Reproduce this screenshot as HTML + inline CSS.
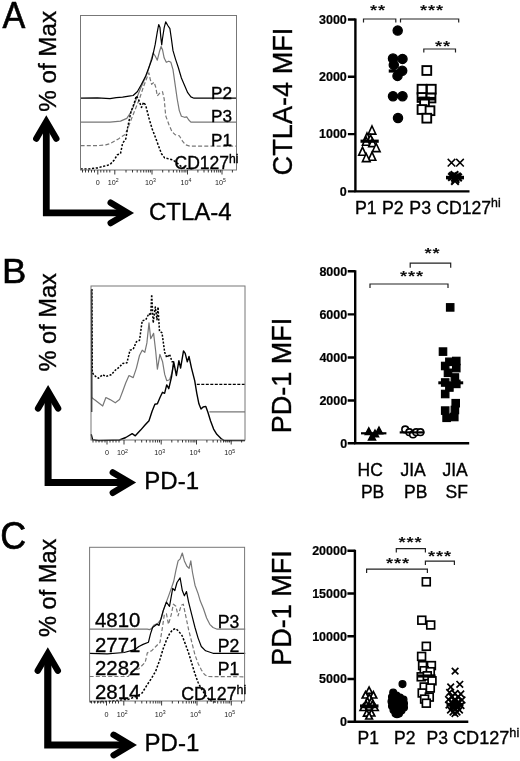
<!DOCTYPE html>
<html><head><meta charset="utf-8"><title>Figure</title>
<style>
html,body{margin:0;padding:0;background:#fff;}
body{width:520px;height:761px;overflow:hidden;}
svg{display:block;font-family:"Liberation Sans",sans-serif;}
text{stroke:#000;stroke-width:0.35px;}
.tk,.tks{stroke:none;}
.ytl{stroke-width:0.2px;}
.pan{stroke-width:0.6px;}
.star{stroke:none;}
.lab{font-size:17.5px;fill:#000;}
.axt{font-size:24px;fill:#000;}
.pan{font-size:35.5px;fill:#000;}
.ytl{font-size:12.5px;font-weight:bold;fill:#000;}
.tk{font-size:7.2px;fill:#222;}
.tks{font-size:5.2px;fill:#222;}
.star{font-size:15.5px;font-weight:bold;letter-spacing:0.75px;fill:#111;}
.ax{stroke:#000;stroke-width:2.4;fill:none;}
.br{stroke:#222;stroke-width:1.2;fill:none;}
.mean{stroke:#000;stroke-width:3.2;}
</style></head><body>
<svg width="520" height="761" viewBox="0 0 520 761">
<rect width="520" height="761" fill="#fff"/>

<!-- Panel A -->
<text class="pan" transform="translate(2.4 27.5) scale(0.964 1.04)">A</text>
<text transform="translate(56.1 111.8) rotate(-90) scale(1 1)" style="font-size:24.2px" fill="#000">% of Max</text>
<g fill="none" stroke="#000" stroke-width="6.8">
<path d="M46.3,123.2 L46.3,212.9 L126.1,212.9" stroke-linejoin="miter"/>
<path d="M36.3,138.6 L46.3,121.5 L56.3,138.6" stroke-width="6.4" stroke-linecap="round" stroke-linejoin="miter" stroke-miterlimit="10"/>
<path d="M110.69999999999999,202.70000000000002 L127.8,212.9 L110.69999999999999,223.1" stroke-width="6.4" stroke-linecap="round" stroke-linejoin="miter" stroke-miterlimit="10"/>
</g>
<text class="axt" x="149" y="220">CTLA-4</text>
<clipPath id="ca"><rect x="80.5" y="15.5" width="156.0" height="155.5"/></clipPath>
<g clip-path="url(#ca)" fill="none" stroke-linejoin="round">
<polyline points="80.6,145.7 97.4,145.7 105.8,144.8 110.0,143.6 118.4,138.9 124.7,134.7 127.9,128.4 131.0,120.0 135.2,109.5 139.4,99.0 143.6,86.4 146.8,78.0 148.9,72.8 149.9,78.0 151.6,84.3 154.1,82.2 155.8,87.5 157.3,95.9 160.0,92.7 162.5,91.7 164.2,99.0 165.7,115.8 168.8,124.2 172.0,131.6 175.1,134.7 179.3,135.8 182.5,141.1 185.6,144.8 189.8,146.1 236.5,146.1" stroke="#777" stroke-width="1.2" stroke-dasharray="4 2.2"/>
<polyline points="80.6,122.1 110.0,122.1 120.5,121.1 126.8,118.4 130.0,113.7 133.1,107.4 136.3,99.0 140.5,88.5 144.7,79.1 147.8,71.7 151.0,60.2 153.1,52.8 155.2,56.0 157.3,60.2 159.4,51.8 161.1,46.5 162.5,49.7 164.2,58.1 166.3,62.3 168.8,61.2 170.9,62.3 173.0,69.6 175.1,84.3 177.2,99.0 179.3,110.6 181.4,116.3 184.6,117.3 186.7,116.9 188.8,120.0 190.9,122.1 236.5,122.1" stroke="#777" stroke-width="1.2"/>
<polyline points="80.6,169.0 89.0,169.0 97.4,167.9 103.7,166.3 110.0,164.6 114.2,160.0 117.4,154.7 120.5,153.7 122.6,143.2 125.8,138.9 127.9,126.3 131.0,111.6 134.2,103.2 136.3,95.9 138.4,99.0 141.5,107.4 143.6,102.2 145.7,105.3 148.9,117.9 152.0,128.4 155.2,136.8 158.3,145.3 161.5,153.7 164.6,157.9 168.8,158.9 173.0,160.0 177.2,163.1 181.4,166.7 185.6,168.4 194.0,169.2" stroke="#000" stroke-width="1.5" stroke-dasharray="2.2 1.6"/>
<polyline points="80.6,98.2 97.4,97.8 110.0,98.6 116.3,97.6 122.6,97.1 128.9,96.1 133.1,95.5 137.3,91.7 141.5,84.3 145.7,75.9 148.9,67.5 152.0,59.1 155.2,44.4 157.3,31.8 158.7,24.5 160.0,27.6 160.8,37.1 161.7,44.8 162.5,38.5 164.2,27.6 165.7,21.9 167.8,25.5 169.9,28.7 171.3,38.1 173.0,50.7 175.5,59.1 178.3,67.5 181.4,78.0 184.6,85.4 187.7,92.7 190.9,96.9 194.0,98.2 236.5,98.2" stroke="#000" stroke-width="1.2"/>
</g>
<rect x="80.5" y="15.5" width="156.0" height="154.5" fill="none" stroke="#777" stroke-width="1"/>
<path d="M97.8,170 v4.5 M114.8,170 v4.5 M152,170 v4.5 M187.5,170 v4.5 M222,170 v4.5 M126.0,170 v2.5 M132.5,170 v2.5 M137.2,170 v2.5 M140.8,170 v2.5 M143.7,170 v2.5 M146.2,170 v2.5 M148.4,170 v2.5 M150.3,170 v2.5 M162.7,170 v2.5 M168.9,170 v2.5 M173.4,170 v2.5 M176.8,170 v2.5 M179.6,170 v2.5 M182.0,170 v2.5 M184.1,170 v2.5 M185.9,170 v2.5 M197.9,170 v2.5 M204.0,170 v2.5 M208.3,170 v2.5 M211.6,170 v2.5 M214.3,170 v2.5 M216.7,170 v2.5 M218.7,170 v2.5 M220.4,170 v2.5 M232.4,170 v2.5 M82.5,170 v2.5 M85.5,170 v2.5 M88.5,170 v2.5 M91.5,170 v2.5 M94.5,170 v2.5 M100.8,170 v2.5 M103.8,170 v2.5 M106.8,170 v2.5 M109.8,170 v2.5" stroke="#222" stroke-width="0.9" fill="none"/>
<text class="tk" x="97.8" y="184.8" text-anchor="middle">0</text>
<text class="tk" x="113.3" y="184.8" text-anchor="middle">10<tspan class="tks" dy="-2.5">2</tspan></text>
<text class="tk" x="150.5" y="184.8" text-anchor="middle">10<tspan class="tks" dy="-2.5">3</tspan></text>
<text class="tk" x="186.0" y="184.8" text-anchor="middle">10<tspan class="tks" dy="-2.5">4</tspan></text>
<text class="tk" x="220.5" y="184.8" text-anchor="middle">10<tspan class="tks" dy="-2.5">5</tspan></text>
<text class="lab" x="211" y="98.5" style="font-size:17.2px">P2</text>
<text class="lab" x="211" y="122.2" style="font-size:17.2px">P3</text>
<text class="lab" x="211" y="145.6" style="font-size:17.2px">P1</text>
<text class="lab" x="174.5" y="168.8" text-anchor="start" style="font-size:17.5px">CD127<tspan dy="-6.3" style="font-size:12.2px">hi</tspan></text>
<text transform="translate(292 175.4) rotate(-90) scale(0.96 1)" style="font-size:28.3px" fill="#000">CTLA-4 MFI</text>
<path class="ax" d="M355.4,18.5 V191.4 M354.4,191.4 H469.5"/>
<path class="ax" d="M347.9,19.5 H355.4 M347.9,76.8 H355.4 M347.9,134.1 H355.4 M347.9,191.4 H355.4"/>
<text class="ytl" x="346.79999999999995" y="23.8" text-anchor="end">3000</text>
<text class="ytl" x="346.79999999999995" y="81.1" text-anchor="end">2000</text>
<text class="ytl" x="346.79999999999995" y="138.4" text-anchor="end">1000</text>
<text class="ytl" x="346.79999999999995" y="195.70000000000002" text-anchor="end">0</text>
<path class="br" d="M363.5,22.5 V19 H395.8 V22.5"/>
<text class="star" transform="translate(378.0 15.2) scale(1.18 1)" text-anchor="middle">**</text>
<path class="br" d="M400.5,22.5 V19 H458.7 V22.5"/>
<text class="star" transform="translate(431.9 15.2) scale(1.18 1)" text-anchor="middle">***</text>
<path class="br" d="M423.8,52.5 V49 H455.5 V52.5"/>
<text class="star" transform="translate(443.0 50.6) scale(1.18 1)" text-anchor="middle">**</text>
<path d="M372.0,126.0 L375.8,134.1 L368.2,134.1 Z" fill="#fff" stroke="#000" stroke-width="1.6" stroke-linejoin="miter"/>
<path d="M367.0,133.0 L370.8,141.1 L363.2,141.1 Z" fill="#fff" stroke="#000" stroke-width="1.6" stroke-linejoin="miter"/>
<path d="M370.5,134.8 L374.3,142.8 L366.7,142.8 Z" fill="#fff" stroke="#000" stroke-width="1.6" stroke-linejoin="miter"/>
<path d="M366.2,137.2 L370.1,145.3 L362.4,145.3 Z" fill="#fff" stroke="#000" stroke-width="1.6" stroke-linejoin="miter"/>
<path d="M372.5,138.5 L376.3,146.6 L368.7,146.6 Z" fill="#fff" stroke="#000" stroke-width="1.6" stroke-linejoin="miter"/>
<path d="M376.2,143.5 L380.1,151.6 L372.4,151.6 Z" fill="#fff" stroke="#000" stroke-width="1.6" stroke-linejoin="miter"/>
<path d="M362.5,147.2 L366.3,155.3 L358.7,155.3 Z" fill="#fff" stroke="#000" stroke-width="1.6" stroke-linejoin="miter"/>
<path d="M372.0,152.2 L375.8,160.3 L368.2,160.3 Z" fill="#fff" stroke="#000" stroke-width="1.6" stroke-linejoin="miter"/>
<path d="M366.2,153.5 L370.1,161.6 L362.4,161.6 Z" fill="#fff" stroke="#000" stroke-width="1.6" stroke-linejoin="miter"/>
<circle cx="397.7" cy="30.6" r="4.6" fill="#000" stroke="#000" stroke-width="1.3"/>
<circle cx="393.0" cy="58.5" r="4.6" fill="#000" stroke="#000" stroke-width="1.3"/>
<circle cx="402.5" cy="58.9" r="4.6" fill="#000" stroke="#000" stroke-width="1.3"/>
<circle cx="393.8" cy="64.9" r="4.6" fill="#000" stroke="#000" stroke-width="1.3"/>
<circle cx="402.2" cy="70.8" r="4.6" fill="#000" stroke="#000" stroke-width="1.3"/>
<circle cx="397.5" cy="75.9" r="4.6" fill="#000" stroke="#000" stroke-width="1.3"/>
<circle cx="393.0" cy="96.2" r="4.6" fill="#000" stroke="#000" stroke-width="1.3"/>
<circle cx="402.5" cy="96.2" r="4.6" fill="#000" stroke="#000" stroke-width="1.3"/>
<circle cx="398.0" cy="118.0" r="4.6" fill="#000" stroke="#000" stroke-width="1.3"/>
<rect x="422.4" y="66.1" width="8.8" height="8.8" fill="#fff" stroke="#000" stroke-width="1.9"/>
<rect x="417.6" y="84.8" width="8.8" height="8.8" fill="#fff" stroke="#000" stroke-width="1.9"/>
<rect x="426.9" y="84.8" width="8.8" height="8.8" fill="#fff" stroke="#000" stroke-width="1.9"/>
<rect x="417.6" y="93.1" width="8.8" height="8.8" fill="#fff" stroke="#000" stroke-width="1.9"/>
<rect x="426.6" y="93.6" width="8.8" height="8.8" fill="#fff" stroke="#000" stroke-width="1.9"/>
<rect x="420.1" y="97.6" width="8.8" height="8.8" fill="#fff" stroke="#000" stroke-width="1.9"/>
<rect x="417.6" y="105.1" width="8.8" height="8.8" fill="#fff" stroke="#000" stroke-width="1.9"/>
<rect x="425.6" y="106.3" width="8.8" height="8.8" fill="#fff" stroke="#000" stroke-width="1.9"/>
<rect x="422.4" y="113.8" width="8.8" height="8.8" fill="#fff" stroke="#000" stroke-width="1.9"/>
<path d="M447.7,158.9 L455.3,166.5 M455.3,158.9 L447.7,166.5" stroke="#000" stroke-width="1.5" fill="none"/>
<path d="M456.2,158.9 L463.8,166.5 M463.8,158.9 L456.2,166.5" stroke="#000" stroke-width="1.5" fill="none"/>
<path d="M449.2,172.2 L456.8,179.8 M456.8,172.2 L449.2,179.8" stroke="#000" stroke-width="2.0" fill="none"/>
<path d="M453.2,172.7 L460.8,180.3 M460.8,172.7 L453.2,180.3" stroke="#000" stroke-width="2.0" fill="none"/>
<path d="M451.2,173.7 L458.8,181.3 M458.8,173.7 L451.2,181.3" stroke="#000" stroke-width="2.0" fill="none"/>
<path d="M448.2,173.2 L455.8,180.8 M455.8,173.2 L448.2,180.8" stroke="#000" stroke-width="2.0" fill="none"/>
<path d="M454.2,173.7 L461.8,181.3 M461.8,173.7 L454.2,181.3" stroke="#000" stroke-width="2.0" fill="none"/>
<path d="M451.2,177.2 L458.8,184.8 M458.8,177.2 L451.2,184.8" stroke="#000" stroke-width="2.0" fill="none"/>
<path d="M450.7,171.2 L458.3,178.8 M458.3,171.2 L450.7,178.8" stroke="#000" stroke-width="2.0" fill="none"/>
<path d="M451.7,175.2 L459.3,182.8 M459.3,175.2 L451.7,182.8" stroke="#000" stroke-width="2.0" fill="none"/>
<line class="mean" x1="360.5" x2="378.75" y1="141.2" y2="141.2" style="stroke-width:3.2"/>
<line class="mean" x1="388.75" x2="407" y1="71" y2="71" style="stroke-width:3.2"/>
<line class="mean" x1="417.5" x2="435.5" y1="98.7" y2="98.7" style="stroke-width:3.6"/>
<line class="mean" x1="446" x2="464" y1="177.6" y2="177.6" style="stroke-width:3.6"/>
<text class="lab" x="354.9" y="213.5" style="font-size:17.8px">P1</text>
<text class="lab" x="382" y="213.5" style="font-size:17.8px">P2</text>
<text class="lab" x="409.3" y="213.5" style="font-size:17.8px">P3</text>
<text class="lab" x="436.3" y="213.5" text-anchor="start" style="font-size:17.6px">CD127<tspan dy="-6.3" style="font-size:12.3px">hi</tspan></text>
<!-- Panel B -->
<text class="pan" transform="translate(2.1 283) scale(1.027 1.012)">B</text>
<text transform="translate(55.6 371.5) rotate(-90) scale(1 1)" style="font-size:23.6px" fill="#000">% of Max</text>
<g fill="none" stroke="#000" stroke-width="7.0">
<path d="M48.1,393 L48.1,482.6 L128.2,482.6" stroke-linejoin="miter"/>
<path d="M38.1,408.4 L48.1,391.3 L58.1,408.4" stroke-width="6.4" stroke-linecap="round" stroke-linejoin="miter" stroke-miterlimit="10"/>
<path d="M112.79999999999998,472.40000000000003 L129.89999999999998,482.6 L112.79999999999998,492.8" stroke-width="6.4" stroke-linecap="round" stroke-linejoin="miter" stroke-miterlimit="10"/>
</g>
<text class="axt" x="144.3" y="489">PD-1</text>
<g fill="none" stroke-linejoin="round">
<polyline points="91.2,290.0 91.8,397.5 94.3,399.6 98.5,402.8 102.7,406.0 105.9,397.5 110.1,399.6 115.3,402.8 119.5,399.6 122.7,391.2 125.8,382.8 129.0,375.5 133.2,377.6 136.4,368.1 139.5,355.5 142.2,350.2 144.8,352.3 146.9,342.9 149.0,322.9 150.7,338.7 153.6,333.4 155.7,351.3 157.4,369.2 159.9,354.4 162.6,361.8 164.7,374.4 166.8,380.7 169.6,379.7 172.1,372.3 173.7,362.8" stroke="#777" stroke-width="1.2"/>
<path d="M209.4,411.8 H245" stroke="#777" stroke-width="1.2"/>
<polyline points="91.8,289.0 92.2,372.3 94.3,375.5 98.5,378.2 102.7,374.8 105.9,376.5 111.1,374.8 115.3,370.2 119.5,367.0 122.7,363.5 126.9,362.8 130.0,350.2 133.2,349.2 136.4,341.8 139.5,340.3 142.2,320.8 145.8,319.7 149.0,313.4 150.7,315.5 151.7,294.5 153.2,322.9 155.3,307.1 157.0,319.7 158.0,307.1 159.5,331.3 162.0,332.8 164.7,352.3 166.8,357.6 169.6,354.4 172.1,361.8 173.7,361.8" stroke="#000" stroke-width="1.5" stroke-dasharray="2 1.5"/>
<path d="M196.8,384.3 H245" stroke="#000" stroke-width="1.3" stroke-dasharray="3 1.5"/>
<polyline points="91.2,434.3 92.6,439.6 98.5,440.6 119.5,440.0 125.8,437.5 132.2,433.7 135.3,435.8 140.6,430.1 144.8,425.3 149.0,420.7 152.1,411.2 154.9,404.3 157.4,403.8 160.0,397.5 162.5,392.3 164.6,393.3 166.7,384.9 168.8,388.7 171.6,376.5 173.7,361.8 176.4,375.5 178.9,360.7 180.6,368.1 183.5,350.9 185.2,353.4 187.3,361.8 189.0,356.5 191.5,368.1 194.7,380.7 196.8,393.3 198.9,403.8 201.0,409.1 203.1,407.0 205.8,406.4 207.9,412.3 210.5,420.7 213.6,429.1 216.8,434.3 221.0,438.5 224.1,440.6 245.0,440.6" stroke="#000" stroke-width="1.4"/>
<path d="M91.7,289 V412" stroke="#000" stroke-width="1.2"/>
</g>
<rect x="91" y="286" width="154" height="154" fill="none" stroke="#777" stroke-width="1"/>
<path d="M107,440 v4.5 M124,440 v4.5 M161.2,440 v4.5 M196.5,440 v4.5 M231.2,440 v4.5 M135.2,440 v2.5 M141.7,440 v2.5 M146.4,440 v2.5 M150.0,440 v2.5 M152.9,440 v2.5 M155.4,440 v2.5 M157.6,440 v2.5 M159.5,440 v2.5 M171.8,440 v2.5 M178.0,440 v2.5 M182.5,440 v2.5 M185.9,440 v2.5 M188.7,440 v2.5 M191.0,440 v2.5 M193.1,440 v2.5 M194.9,440 v2.5 M206.9,440 v2.5 M213.1,440 v2.5 M217.4,440 v2.5 M220.8,440 v2.5 M223.5,440 v2.5 M225.8,440 v2.5 M227.8,440 v2.5 M229.6,440 v2.5 M241.6,440 v2.5 M93.0,440 v2.5 M96.0,440 v2.5 M99.0,440 v2.5 M102.0,440 v2.5 M105.0,440 v2.5 M110.0,440 v2.5 M113.0,440 v2.5 M116.0,440 v2.5 M119.0,440 v2.5" stroke="#222" stroke-width="0.9" fill="none"/>
<text class="tk" x="107" y="455" text-anchor="middle">0</text>
<text class="tk" x="122.5" y="455" text-anchor="middle">10<tspan class="tks" dy="-2.5">2</tspan></text>
<text class="tk" x="159.7" y="455" text-anchor="middle">10<tspan class="tks" dy="-2.5">3</tspan></text>
<text class="tk" x="195.0" y="455" text-anchor="middle">10<tspan class="tks" dy="-2.5">4</tspan></text>
<text class="tk" x="229.7" y="455" text-anchor="middle">10<tspan class="tks" dy="-2.5">5</tspan></text>
<text transform="translate(291.2 433.3) rotate(-90) scale(0.965 1)" style="font-size:28px" fill="#000">PD-1 MFI</text>
<path class="ax" d="M355.2,270.2 V443.2 M354.2,443.2 H469.2"/>
<path class="ax" d="M347.7,271.2 H355.2 M347.7,314.4 H355.2 M347.7,357.5 H355.2 M347.7,400.5 H355.2 M347.7,443.2 H355.2"/>
<text class="ytl" x="347.2" y="275.5" text-anchor="end">8000</text>
<text class="ytl" x="347.2" y="318.7" text-anchor="end">6000</text>
<text class="ytl" x="347.2" y="361.8" text-anchor="end">4000</text>
<text class="ytl" x="347.2" y="404.8" text-anchor="end">2000</text>
<text class="ytl" x="347.2" y="447.5" text-anchor="end">0</text>
<path class="br" d="M370,288 V284 H448 V288"/>
<text class="star" transform="translate(411.9 281.2) scale(1.18 1)" text-anchor="middle">***</text>
<path class="br" d="M410.2,267.7 V263.2 H450.7 V267.7"/>
<text class="star" transform="translate(432.4 258.3) scale(1.18 1)" text-anchor="middle">**</text>
<path d="M368.8,427.8 L372.4,434.6 L365.2,434.6 Z" fill="#000" stroke="#000" stroke-width="1.4" stroke-linejoin="miter"/>
<path d="M379.0,427.0 L382.6,433.8 L375.4,433.8 Z" fill="#000" stroke="#000" stroke-width="1.4" stroke-linejoin="miter"/>
<path d="M372.0,433.3 L375.6,440.1 L368.4,440.1 Z" fill="#000" stroke="#000" stroke-width="1.4" stroke-linejoin="miter"/>
<path d="M375.0,430.0 L378.6,436.8 L371.4,436.8 Z" fill="#000" stroke="#000" stroke-width="1.4" stroke-linejoin="miter"/>
<circle cx="405.2" cy="429.4" r="3.3" fill="#fff" stroke="#000" stroke-width="1.6"/>
<circle cx="409.3" cy="432.2" r="3.3" fill="#fff" stroke="#000" stroke-width="1.6"/>
<circle cx="413.0" cy="434.4" r="3.3" fill="#fff" stroke="#000" stroke-width="1.6"/>
<circle cx="416.2" cy="432.2" r="3.3" fill="#fff" stroke="#000" stroke-width="1.6"/>
<circle cx="420.4" cy="432.2" r="3.3" fill="#fff" stroke="#000" stroke-width="1.6"/>
<rect x="446.5" y="303.7" width="7.4" height="7.4" fill="#000" stroke="#000" stroke-width="1.2"/>
<rect x="439.3" y="347.9" width="7.4" height="7.4" fill="#000" stroke="#000" stroke-width="1.2"/>
<rect x="452.6" y="357.3" width="7.4" height="7.4" fill="#000" stroke="#000" stroke-width="1.2"/>
<rect x="445.7" y="358.1" width="7.4" height="7.4" fill="#000" stroke="#000" stroke-width="1.2"/>
<rect x="441.5" y="362.3" width="7.4" height="7.4" fill="#000" stroke="#000" stroke-width="1.2"/>
<rect x="452.6" y="364.4" width="7.4" height="7.4" fill="#000" stroke="#000" stroke-width="1.2"/>
<rect x="444.3" y="369.1" width="7.4" height="7.4" fill="#000" stroke="#000" stroke-width="1.2"/>
<rect x="451.2" y="373.8" width="7.4" height="7.4" fill="#000" stroke="#000" stroke-width="1.2"/>
<rect x="441.5" y="378.8" width="7.4" height="7.4" fill="#000" stroke="#000" stroke-width="1.2"/>
<rect x="452.6" y="380.2" width="7.4" height="7.4" fill="#000" stroke="#000" stroke-width="1.2"/>
<rect x="445.7" y="383.8" width="7.4" height="7.4" fill="#000" stroke="#000" stroke-width="1.2"/>
<rect x="441.5" y="390.3" width="7.4" height="7.4" fill="#000" stroke="#000" stroke-width="1.2"/>
<rect x="452.0" y="399.5" width="7.4" height="7.4" fill="#000" stroke="#000" stroke-width="1.2"/>
<rect x="441.5" y="406.9" width="7.4" height="7.4" fill="#000" stroke="#000" stroke-width="1.2"/>
<rect x="451.2" y="406.3" width="7.4" height="7.4" fill="#000" stroke="#000" stroke-width="1.2"/>
<rect x="442.9" y="414.1" width="7.4" height="7.4" fill="#000" stroke="#000" stroke-width="1.2"/>
<rect x="450.6" y="413.3" width="7.4" height="7.4" fill="#000" stroke="#000" stroke-width="1.2"/>
<line class="mean" x1="361" x2="386.4" y1="433.3" y2="433.3" style="stroke-width:2.2"/>
<line class="mean" x1="399.7" x2="424.5" y1="432.4" y2="432.4" style="stroke-width:2.2"/>
<line class="mean" x1="438.3" x2="463.2" y1="382.8" y2="382.8" style="stroke-width:3"/>
<text class="lab" x="357.5" y="476.2">HC</text>
<text class="lab" x="360.9" y="497.7">PB</text>
<text class="lab" x="400.5" y="476.2">JIA</text>
<text class="lab" x="404" y="497.7">PB</text>
<text class="lab" x="442.5" y="476.2">JIA</text>
<text class="lab" x="445.5" y="497.7">SF</text>
<!-- Panel C -->
<text class="pan" transform="translate(0.2 548.8) scale(1.01 1.075)">C</text>
<text transform="translate(56.1 637) rotate(-90) scale(1 1)" style="font-size:23.6px" fill="#000">% of Max</text>
<g fill="none" stroke="#000" stroke-width="7.2">
<path d="M47.8,655.3 L47.8,745 L129,745" stroke-linejoin="miter"/>
<path d="M37.8,670.6999999999999 L47.8,653.5999999999999 L57.8,670.6999999999999" stroke-width="6.4" stroke-linecap="round" stroke-linejoin="miter" stroke-miterlimit="10"/>
<path d="M113.6,734.8 L130.7,745 L113.6,755.2" stroke-width="6.4" stroke-linecap="round" stroke-linejoin="miter" stroke-miterlimit="10"/>
</g>
<text class="axt" x="144.6" y="751.2">PD-1</text>
<g fill="none" stroke-linejoin="round">
<polyline points="89.6,676.5 128.3,676.5 131.5,671.9 138.9,668.7 145.2,662.4 147.3,652.9 151.6,650.8 155.8,646.5 160.0,642.3 162.1,629.6 164.3,614.8 166.4,613.7 168.5,624.3 171.2,614.8 173.4,604.2 175.9,606.3 178.1,615.8 181.2,605.3 183.3,604.2 185.5,614.8 188.6,629.6 191.8,642.3 195.0,655.0 198.1,663.4 201.3,669.8 204.5,674.5 207.7,676.5 245.2,676.8" stroke="#777" stroke-width="1.2" stroke-dasharray="4 2.2"/>
<polyline points="89.6,629.2 147.3,629.2 149.5,629.6 151.6,628.6 153.7,625.4 157.9,623.3 161.1,619.0 163.3,610.6 165.7,603.7 168.7,595.6 171.7,587.3 173.8,581.0 175.9,570.4 178.1,560.9 180.2,558.8 182.3,553.0 184.4,560.9 186.9,566.2 189.1,568.3 190.8,560.9 192.5,572.5 195.0,585.2 198.1,593.6 200.3,601.1 203.4,608.5 206.6,618.0 209.8,624.3 213.0,627.5 217.2,629.2 245.2,629.2" stroke="#777" stroke-width="1.2"/>
<polyline points="89.6,701.8 107.2,701.5 128.3,699.4 136.8,696.2 142.0,693.1 147.3,684.6 151.6,678.2 155.8,670.9 160.0,659.2 163.2,648.6 166.4,640.2 169.5,633.9 172.7,629.6 175.9,628.6 179.1,631.7 182.2,635.9 185.5,644.4 188.6,652.9 191.8,663.4 195.0,674.0 198.1,682.5 201.3,688.8 205.6,695.2 209.8,700.5 215.8,702.1" stroke="#000" stroke-width="1.5" stroke-dasharray="2.2 1.6"/>
<polyline points="89.6,653.3 107.2,653.9 124.1,652.5 134.7,649.7 138.9,646.5 143.1,644.4 148.4,642.3 150.5,633.9 152.6,627.5 156.9,624.3 159.0,625.4 160.8,619.4 163.2,610.6 166.4,602.1 169.5,606.3 172.7,588.3 174.8,590.5 177.0,582.5 180.1,577.8 182.3,590.5 184.4,595.8 186.5,591.6 188.6,602.1 191.8,614.8 195.0,627.5 198.1,638.1 201.3,646.5 205.6,650.8 213.0,653.3 245.2,653.3" stroke="#000" stroke-width="1.2"/>
</g>
<rect x="89.6" y="547.3" width="155.0" height="153.70000000000005" fill="none" stroke="#777" stroke-width="1"/>
<path d="M106.5,701 v4.5 M123.8,701 v4.5 M161.6,701 v4.5 M197,701 v4.5 M231.3,701 v4.5 M135.2,701 v2.5 M141.8,701 v2.5 M146.6,701 v2.5 M150.2,701 v2.5 M153.2,701 v2.5 M155.7,701 v2.5 M157.9,701 v2.5 M159.9,701 v2.5 M172.3,701 v2.5 M178.5,701 v2.5 M182.9,701 v2.5 M186.3,701 v2.5 M189.1,701 v2.5 M191.5,701 v2.5 M193.6,701 v2.5 M195.4,701 v2.5 M207.3,701 v2.5 M213.4,701 v2.5 M217.7,701 v2.5 M221.0,701 v2.5 M223.7,701 v2.5 M226.0,701 v2.5 M228.0,701 v2.5 M229.7,701 v2.5 M241.6,701 v2.5 M91.6,701 v2.5 M94.6,701 v2.5 M97.6,701 v2.5 M100.6,701 v2.5 M103.6,701 v2.5 M109.5,701 v2.5 M112.5,701 v2.5 M115.5,701 v2.5 M118.5,701 v2.5" stroke="#222" stroke-width="0.9" fill="none"/>
<text class="tk" x="106.5" y="716.6" text-anchor="middle">0</text>
<text class="tk" x="122.3" y="716.6" text-anchor="middle">10<tspan class="tks" dy="-2.5">2</tspan></text>
<text class="tk" x="160.1" y="716.6" text-anchor="middle">10<tspan class="tks" dy="-2.5">3</tspan></text>
<text class="tk" x="195.5" y="716.6" text-anchor="middle">10<tspan class="tks" dy="-2.5">4</tspan></text>
<text class="tk" x="229.8" y="716.6" text-anchor="middle">10<tspan class="tks" dy="-2.5">5</tspan></text>
<text x="95" y="627.3" style="font-size:20.4px">4810</text>
<text x="95" y="651.7" style="font-size:20.4px">2771</text>
<text x="95" y="675.3" style="font-size:20.4px">2282</text>
<text x="95" y="699.4" style="font-size:20.4px">2814</text>
<text x="217.8" y="628" style="font-size:17.6px">P3</text>
<text x="217.8" y="652" style="font-size:17.6px">P2</text>
<text x="217.8" y="675.4" style="font-size:17.6px">P1</text>
<text class="lab" x="181.2" y="700.2" text-anchor="start" style="font-size:17.8px">CD127<tspan dy="-6.4" style="font-size:12.5px">hi</tspan></text>
<text transform="translate(291.4 665.8) rotate(-90) scale(0.965 1)" style="font-size:28px" fill="#000">PD-1 MFI</text>
<path class="ax" d="M354.9,549.8 V721.7 M353.9,721.7 H468.3"/>
<path class="ax" d="M347.4,550.8 H354.9 M347.4,593.5 H354.9 M347.4,636.2 H354.9 M347.4,679.0 H354.9 M347.4,721.7 H354.9"/>
<text class="ytl" x="346.9" y="555.0999999999999" text-anchor="end">20000</text>
<text class="ytl" x="346.9" y="597.8" text-anchor="end">15000</text>
<text class="ytl" x="346.9" y="640.5" text-anchor="end">10000</text>
<text class="ytl" x="346.9" y="683.3" text-anchor="end">5000</text>
<text class="ytl" x="346.9" y="726.0" text-anchor="end">0</text>
<path class="br" d="M396.3,552.6 V548.6 H425.4 V552.6"/>
<text class="star" transform="translate(410.4 547.3) scale(1.18 1)" text-anchor="middle">***</text>
<path class="br" d="M366.6,573.1 V569.1 H427.4 V573.1"/>
<text class="star" transform="translate(397.9 568.1) scale(1.18 1)" text-anchor="middle">***</text>
<path class="br" d="M425.4,565.1 V561.1 H454.4 V565.1"/>
<text class="star" transform="translate(440.0 560.5) scale(1.18 1)" text-anchor="middle">***</text>
<path d="M369.1,687.1 L372.4,693.4 L365.8,693.4 Z" fill="#fff" stroke="#000" stroke-width="1.7" stroke-linejoin="miter"/>
<path d="M365.5,691.7 L368.8,698.0 L362.2,698.0 Z" fill="#fff" stroke="#000" stroke-width="1.7" stroke-linejoin="miter"/>
<path d="M373.4,691.7 L376.7,698.0 L370.1,698.0 Z" fill="#fff" stroke="#000" stroke-width="1.7" stroke-linejoin="miter"/>
<path d="M369.3,694.2 L372.6,700.5 L366.0,700.5 Z" fill="#fff" stroke="#000" stroke-width="1.7" stroke-linejoin="miter"/>
<path d="M367.5,697.9 L370.8,704.2 L364.2,704.2 Z" fill="#fff" stroke="#000" stroke-width="1.7" stroke-linejoin="miter"/>
<path d="M371.5,697.7 L374.8,704.0 L368.2,704.0 Z" fill="#fff" stroke="#000" stroke-width="1.7" stroke-linejoin="miter"/>
<path d="M363.4,704.2 L366.7,710.5 L360.1,710.5 Z" fill="#fff" stroke="#000" stroke-width="1.7" stroke-linejoin="miter"/>
<path d="M374.9,704.2 L378.2,710.5 L371.6,710.5 Z" fill="#fff" stroke="#000" stroke-width="1.7" stroke-linejoin="miter"/>
<path d="M369.0,703.9 L372.3,710.2 L365.7,710.2 Z" fill="#fff" stroke="#000" stroke-width="1.7" stroke-linejoin="miter"/>
<path d="M366.2,701.2 L369.5,707.5 L362.9,707.5 Z" fill="#fff" stroke="#000" stroke-width="1.7" stroke-linejoin="miter"/>
<path d="M372.3,701.2 L375.6,707.5 L369.0,707.5 Z" fill="#fff" stroke="#000" stroke-width="1.7" stroke-linejoin="miter"/>
<path d="M366.8,709.9 L370.1,716.2 L363.5,716.2 Z" fill="#fff" stroke="#000" stroke-width="1.7" stroke-linejoin="miter"/>
<path d="M371.5,709.7 L374.8,716.0 L368.2,716.0 Z" fill="#fff" stroke="#000" stroke-width="1.7" stroke-linejoin="miter"/>
<path d="M369.1,712.7 L372.4,719.0 L365.8,719.0 Z" fill="#fff" stroke="#000" stroke-width="1.7" stroke-linejoin="miter"/>
<circle cx="402.5" cy="684.1" r="3.4" fill="#000" stroke="#000" stroke-width="1.3"/>
<circle cx="393.2" cy="692.6" r="3.4" fill="#000" stroke="#000" stroke-width="1.3"/>
<circle cx="396.5" cy="695.5" r="3.4" fill="#000" stroke="#000" stroke-width="1.3"/>
<circle cx="392.0" cy="697.0" r="3.4" fill="#000" stroke="#000" stroke-width="1.3"/>
<circle cx="400.0" cy="697.5" r="3.4" fill="#000" stroke="#000" stroke-width="1.3"/>
<circle cx="403.5" cy="699.5" r="3.4" fill="#000" stroke="#000" stroke-width="1.3"/>
<circle cx="391.5" cy="701.5" r="3.4" fill="#000" stroke="#000" stroke-width="1.3"/>
<circle cx="395.5" cy="700.5" r="3.4" fill="#000" stroke="#000" stroke-width="1.3"/>
<circle cx="399.5" cy="702.0" r="3.4" fill="#000" stroke="#000" stroke-width="1.3"/>
<circle cx="404.0" cy="703.5" r="3.4" fill="#000" stroke="#000" stroke-width="1.3"/>
<circle cx="392.0" cy="706.0" r="3.4" fill="#000" stroke="#000" stroke-width="1.3"/>
<circle cx="396.0" cy="705.5" r="3.4" fill="#000" stroke="#000" stroke-width="1.3"/>
<circle cx="400.5" cy="706.5" r="3.4" fill="#000" stroke="#000" stroke-width="1.3"/>
<circle cx="404.0" cy="707.5" r="3.4" fill="#000" stroke="#000" stroke-width="1.3"/>
<circle cx="393.5" cy="710.0" r="3.4" fill="#000" stroke="#000" stroke-width="1.3"/>
<circle cx="397.5" cy="710.0" r="3.4" fill="#000" stroke="#000" stroke-width="1.3"/>
<circle cx="401.5" cy="710.5" r="3.4" fill="#000" stroke="#000" stroke-width="1.3"/>
<circle cx="395.5" cy="713.5" r="3.4" fill="#000" stroke="#000" stroke-width="1.3"/>
<circle cx="399.0" cy="713.5" r="3.4" fill="#000" stroke="#000" stroke-width="1.3"/>
<circle cx="397.0" cy="714.2" r="3.4" fill="#000" stroke="#000" stroke-width="1.3"/>
<rect x="422.4" y="577.9" width="7.8" height="7.8" fill="#fff" stroke="#000" stroke-width="1.7"/>
<rect x="417.9" y="616.3" width="7.8" height="7.8" fill="#fff" stroke="#000" stroke-width="1.7"/>
<rect x="426.8" y="621.1" width="7.8" height="7.8" fill="#fff" stroke="#000" stroke-width="1.7"/>
<rect x="422.4" y="642.4" width="7.8" height="7.8" fill="#fff" stroke="#000" stroke-width="1.7"/>
<rect x="417.7" y="652.5" width="7.8" height="7.8" fill="#fff" stroke="#000" stroke-width="1.7"/>
<rect x="418.7" y="661.7" width="7.8" height="7.8" fill="#fff" stroke="#000" stroke-width="1.7"/>
<rect x="427.5" y="661.7" width="7.8" height="7.8" fill="#fff" stroke="#000" stroke-width="1.7"/>
<rect x="420.3" y="666.8" width="7.8" height="7.8" fill="#fff" stroke="#000" stroke-width="1.7"/>
<rect x="426.4" y="667.8" width="7.8" height="7.8" fill="#fff" stroke="#000" stroke-width="1.7"/>
<rect x="417.3" y="672.9" width="7.8" height="7.8" fill="#fff" stroke="#000" stroke-width="1.7"/>
<rect x="423.4" y="671.9" width="7.8" height="7.8" fill="#fff" stroke="#000" stroke-width="1.7"/>
<rect x="428.1" y="676.9" width="7.8" height="7.8" fill="#fff" stroke="#000" stroke-width="1.7"/>
<rect x="420.3" y="683.1" width="7.8" height="7.8" fill="#fff" stroke="#000" stroke-width="1.7"/>
<rect x="426.4" y="684.1" width="7.8" height="7.8" fill="#fff" stroke="#000" stroke-width="1.7"/>
<rect x="418.3" y="689.1" width="7.8" height="7.8" fill="#fff" stroke="#000" stroke-width="1.7"/>
<rect x="425.4" y="693.2" width="7.8" height="7.8" fill="#fff" stroke="#000" stroke-width="1.7"/>
<rect x="420.7" y="695.2" width="7.8" height="7.8" fill="#fff" stroke="#000" stroke-width="1.7"/>
<rect x="422.4" y="699.3" width="7.8" height="7.8" fill="#fff" stroke="#000" stroke-width="1.7"/>
<path d="M451.8,667.8 L458.4,674.4 M458.4,667.8 L451.8,674.4" stroke="#000" stroke-width="1.7" fill="none"/>
<path d="M456.5,681.0 L463.1,687.6 M463.1,681.0 L456.5,687.6" stroke="#000" stroke-width="1.7" fill="none"/>
<path d="M447.4,683.7 L454.0,690.3 M454.0,683.7 L447.4,690.3" stroke="#000" stroke-width="1.7" fill="none"/>
<path d="M457.5,690.7 L464.1,697.3 M464.1,690.7 L457.5,697.3" stroke="#000" stroke-width="1.7" fill="none"/>
<path d="M446.3,689.2 L452.9,695.8 M452.9,689.2 L446.3,695.8" stroke="#000" stroke-width="1.7" fill="none"/>
<path d="M451.7,690.2 L458.3,696.8 M458.3,690.2 L451.7,696.8" stroke="#000" stroke-width="1.7" fill="none"/>
<path d="M448.7,693.7 L455.3,700.3 M455.3,693.7 L448.7,700.3" stroke="#000" stroke-width="1.7" fill="none"/>
<path d="M454.7,693.7 L461.3,700.3 M461.3,693.7 L454.7,700.3" stroke="#000" stroke-width="1.7" fill="none"/>
<path d="M445.2,696.2 L451.8,702.8 M451.8,696.2 L445.2,702.8" stroke="#000" stroke-width="1.7" fill="none"/>
<path d="M458.7,696.7 L465.3,703.3 M465.3,696.7 L458.7,703.3" stroke="#000" stroke-width="1.7" fill="none"/>
<path d="M451.7,696.2 L458.3,702.8 M458.3,696.2 L451.7,702.8" stroke="#000" stroke-width="1.7" fill="none"/>
<path d="M448.2,698.7 L454.8,705.3 M454.8,698.7 L448.2,705.3" stroke="#000" stroke-width="1.7" fill="none"/>
<path d="M455.2,698.7 L461.8,705.3 M461.8,698.7 L455.2,705.3" stroke="#000" stroke-width="1.7" fill="none"/>
<path d="M451.7,700.7 L458.3,707.3 M458.3,700.7 L451.7,707.3" stroke="#000" stroke-width="1.7" fill="none"/>
<path d="M445.7,701.7 L452.3,708.3 M452.3,701.7 L445.7,708.3" stroke="#000" stroke-width="1.7" fill="none"/>
<path d="M457.7,702.2 L464.3,708.8 M464.3,702.2 L457.7,708.8" stroke="#000" stroke-width="1.7" fill="none"/>
<path d="M449.2,703.7 L455.8,710.3 M455.8,703.7 L449.2,710.3" stroke="#000" stroke-width="1.7" fill="none"/>
<path d="M454.2,703.7 L460.8,710.3 M460.8,703.7 L454.2,710.3" stroke="#000" stroke-width="1.7" fill="none"/>
<path d="M451.7,705.7 L458.3,712.3 M458.3,705.7 L451.7,712.3" stroke="#000" stroke-width="1.7" fill="none"/>
<path d="M447.2,706.7 L453.8,713.3 M453.8,706.7 L447.2,713.3" stroke="#000" stroke-width="1.7" fill="none"/>
<path d="M456.2,706.7 L462.8,713.3 M462.8,706.7 L456.2,713.3" stroke="#000" stroke-width="1.7" fill="none"/>
<path d="M449.7,708.7 L456.3,715.3 M456.3,708.7 L449.7,715.3" stroke="#000" stroke-width="1.7" fill="none"/>
<path d="M453.7,708.7 L460.3,715.3 M460.3,708.7 L453.7,715.3" stroke="#000" stroke-width="1.7" fill="none"/>
<path d="M451.7,710.2 L458.3,716.8 M458.3,710.2 L451.7,716.8" stroke="#000" stroke-width="1.7" fill="none"/>
<path d="M451.7,697.7 L458.3,704.3 M458.3,697.7 L451.7,704.3" stroke="#000" stroke-width="1.7" fill="none"/>
<path d="M449.7,701.2 L456.3,707.8 M456.3,701.2 L449.7,707.8" stroke="#000" stroke-width="1.7" fill="none"/>
<path d="M453.7,701.7 L460.3,708.3 M460.3,701.7 L453.7,708.3" stroke="#000" stroke-width="1.7" fill="none"/>
<path d="M450.7,704.2 L457.3,710.8 M457.3,704.2 L450.7,710.8" stroke="#000" stroke-width="1.7" fill="none"/>
<line class="mean" x1="417" x2="435.6" y1="676" y2="676" style="stroke-width:3.2"/>
<line class="mean" x1="360" x2="378.5" y1="706" y2="706" style="stroke-width:3.2"/>
<line class="mean" x1="389" x2="406.5" y1="704" y2="704" style="stroke-width:3.2"/>
<line class="mean" x1="446.5" x2="463.5" y1="704.5" y2="704.5" style="stroke-width:3.2"/>
<text class="lab" x="357.5" y="743.5">P1</text>
<text class="lab" x="394" y="743.5">P2</text>
<text class="lab" x="426.5" y="743.5">P3</text>
<text class="lab" x="453" y="743.5" text-anchor="start" style="font-size:18.1px">CD127<tspan dy="-6.5" style="font-size:12.7px">hi</tspan></text>
</svg></body></html>
